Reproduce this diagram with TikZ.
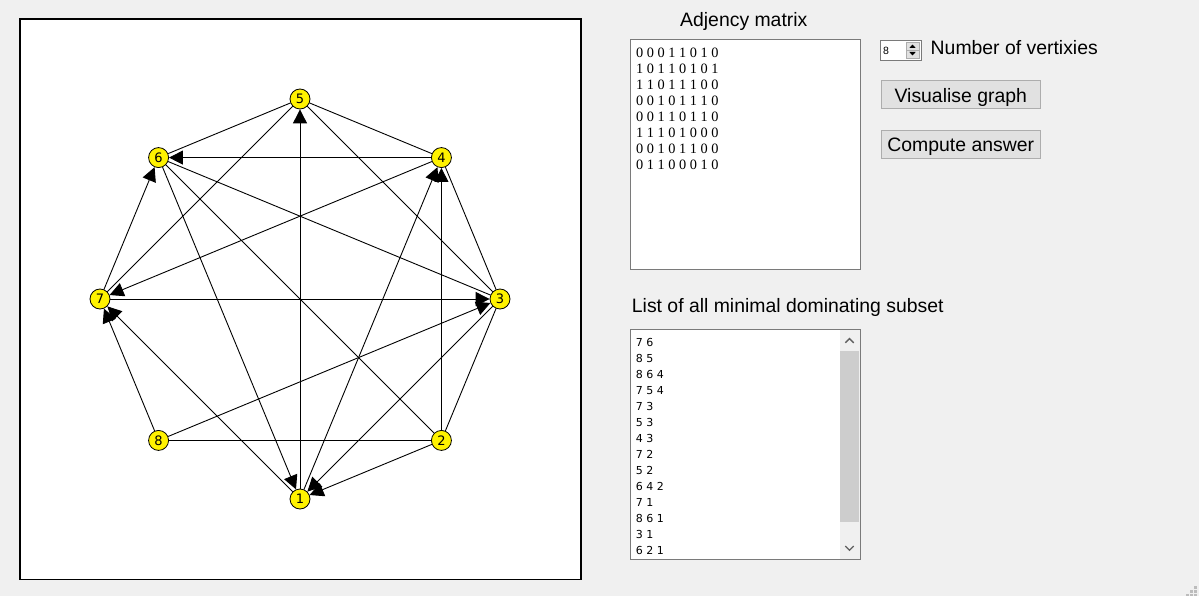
\documentclass[tikz,border=0pt]{standalone}
\usepackage{fontspec}
\setmainfont{Liberation Sans}
\newfontfamily\matfont{Liberation Serif}
\newfontfamily\listfont{DejaVu Sans}
\usepackage{tikz}
\usetikzlibrary{arrows.meta}
\definecolor{formbg}{HTML}{F0F0F0}
\definecolor{btnfill}{HTML}{E1E1E1}
\definecolor{btnline}{HTML}{ADADAD}
\definecolor{boxline}{HTML}{7A7A7A}
\definecolor{thumbc}{HTML}{CDCDCD}
\definecolor{chevc}{HTML}{606060}
\definecolor{gripc}{HTML}{BCBCBC}

\begin{document}
\begin{tikzpicture}[x=1pt,y=-1pt,
  vertex/.style={circle,draw,fill=yellow,line width=0.8pt,minimum size=20pt,inner sep=0pt,font=\listfont\fontsize{13}{13}\selectfont},
  edge/.style={line width=0.9pt},
  arc/.style={edge,-{Triangle[length=14pt,width=14pt]}},
  caption/.style={anchor=base west,inner sep=0pt,font=\fontsize{19.4}{23}\selectfont},
  button/.style={draw=btnline,fill=btnfill,line width=1pt,inner sep=0pt,anchor=north west,
    minimum width=158.5pt,minimum height=28pt,text height=18pt,text depth=3.6pt,font=\fontsize{19.4}{23}\selectfont},
  textbox/.style={draw=boxline,fill=white,line width=1pt},
  cell/.style={anchor=base west,inner sep=0pt}]
\useasboundingbox (0,0) rectangle (1199,596);
\fill[formbg] (0,0) rectangle (1199,596);
\draw[line width=1.1pt,fill=white] (20,19) rectangle (581,579.5);
\foreach \k in {1,...,8}
  \node[vertex] (v\k) at ({300+200*cos(45*\k-135)},{299-200*sin(45*\k-135)}) {\k};
\foreach \a/\b in {5/6,5/4,5/3,5/7,4/3,3/6,2/3,2/6,2/8}
  \draw[edge] (v\a) -- (v\b);
\foreach \a/\b in {1/4,1/5,1/7,2/1,2/4,3/1,4/6,4/7,6/1,7/3,7/6,8/3,8/7}
  \draw[arc] (v\a) -- (v\b);

\node[caption] (mattitle) at (680,26.5) {Adjency matrix};
\draw[textbox] (630.5,39.5) rectangle (860.5,269.5);
\foreach \r [count=\i] in {{0 0 0 1 1 0 1 0},{1 0 1 1 0 1 0 1},{1 1 0 1 1 1 0 0},{0 0 1 0 1 1 1 0},
    {0 0 1 1 0 1 1 0},{1 1 1 0 1 0 0 0},{0 0 1 0 1 1 0 0},{0 1 1 0 0 0 1 0}}
  \node[cell,font=\matfont\fontsize{14.3}{16}\selectfont] (row\i) at (636,{41.5+16*\i}) {\r};

\draw[textbox] (880.5,40.5) rectangle (921.5,60.5);
\node[cell,font=\fontsize{10.5}{12}\selectfont] (nvalue) at (883,54.3) {8};
\draw[draw=btnline,fill=btnfill,line width=0.8pt] (906,42) rectangle (919,58);
\draw[btnline,line width=0.8pt] (906,50) -- (919,50);
\fill (909.3,48) -- (915.7,48) -- (912.5,44.6) -- cycle;
\fill (909.3,52) -- (915.7,52) -- (912.5,55.4) -- cycle;
\node[caption] (nverts) at (930.5,54.3) {Number of vertixies};

\node[button] (visbtn) at (881,80.5) {Visualise graph};
\node[button] (compbtn) at (881,130.3) {Compute answer};

\node[caption] (listtitle) at (631.7,312.7) {List of all minimal dominating subset};
\draw[textbox] (630.5,329.5) rectangle (860.5,559.5);
\fill[formbg] (840,330) rectangle (860,559);
\fill[thumbc] (840,351) rectangle (859,522);
\draw[chevc,line width=1.3pt] (845.3,342.8) -- (849.5,338.6) -- (853.7,342.8);
\draw[chevc,line width=1.3pt] (845.3,546) -- (849.5,550.2) -- (853.7,546);
\foreach \s [count=\i] in {7 6,8 5,8 6 4,7 5 4,7 3,5 3,4 3,7 2,5 2,6 4 2,7 1,8 6 1,3 1,6 2 1}
  \node[cell,font=\listfont\fontsize{11}{16}\selectfont] (item\i) at (635.7,{330.5+16*\i}) {\s};

\foreach \gx/\gy in {1194/586,1190/590,1194/590,1186/594,1190/594,1194/594}
  \fill[gripc] (\gx,\gy) rectangle ++(3,3);
\end{tikzpicture}
\end{document}
